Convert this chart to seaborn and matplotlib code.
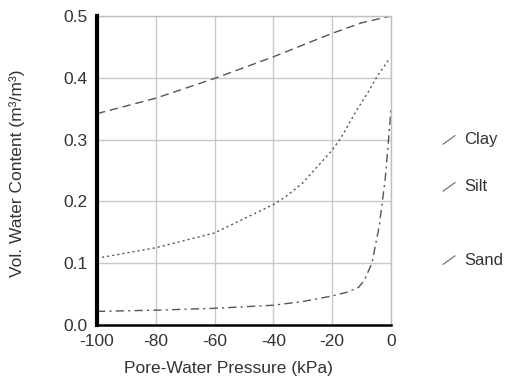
import numpy as np
import pandas as pd
import matplotlib
matplotlib.use("Agg")
import matplotlib.pyplot as plt
import seaborn as sns

# ---- data ----
clay_x = [-100, -80, -60, -40, -20, -10, 0]
clay_y = [0.342, 0.367, 0.399, 0.434, 0.472, 0.489, 0.500]

silt_x = [-100, -80, -60, -40, -36, -30, -20, -17, -12, -8, -5, -1]
silt_y = [0.108, 0.125, 0.149, 0.195, 0.207, 0.230, 0.283, 0.303, 0.345, 0.375, 0.400, 0.428]

sand_x = [-100, -80, -60, -40, -30, -20, -15, -11, -9, -6.5, -4, -2, -1, 0]
sand_y = [0.022, 0.024, 0.027, 0.032, 0.038, 0.047, 0.053, 0.061, 0.073, 0.100, 0.160, 0.235, 0.290, 0.350]

series_names = ["Clay", "Silt", "Sand"]
x_ticks = [-100, -80, -60, -40, -20, 0]
y_ticks = [0.0, 0.1, 0.2, 0.3, 0.4, 0.5]

sns.set_style("white")
plt.rcParams['font.family'] = ['Liberation Sans', 'DejaVu Sans']
plt.rcParams['axes.unicode_minus'] = False

fig = plt.figure(figsize=(5.05, 3.83), dpi=100)
ax = fig.add_axes([97/505, 1-325/383, 294/505, 309/383])

line_col = "#555555"
styles = {
    "Clay": (0, (6, 3.5)),
    "Silt": (0, (1.5, 2.2)),
    "Sand": (0, (6, 3, 1.5, 3)),
}
data = {"Clay": (clay_x, clay_y), "Silt": (silt_x, silt_y), "Sand": (sand_x, sand_y)}
for name in series_names:
    xs, ys = data[name]
    df = pd.DataFrame({"x": xs, "y": ys})
    sns.lineplot(data=df, x="x", y="y", ax=ax, color=line_col, lw=1.0,
                 linestyle=styles[name], estimator=None, sort=False)

ax.set_xlim(-100, 0)
ax.set_ylim(0, 0.5)
ax.set_xticks(x_ticks)
ax.set_yticks(y_ticks)
ax.set_xticklabels([str(t) for t in x_ticks])
ax.set_yticklabels([f"{t:.1f}" for t in y_ticks])
ax.grid(True, color="#c8c8c8", lw=1.0)
ax.set_axisbelow(True)

for s in ["top", "right"]:
    ax.spines[s].set_color("#c0c0c0")
    ax.spines[s].set_linewidth(1.0)
ax.spines["left"].set_color("black")
ax.spines["left"].set_linewidth(3.0)
ax.spines["bottom"].set_color("black")
ax.spines["bottom"].set_linewidth(1.8)
ax.spines["left"].set_zorder(5)
ax.spines["bottom"].set_zorder(5)

txt_col = "#333333"
fs = 12.5
ax.tick_params(axis="y", direction="inout", length=22, width=1.6, color="black",
               labelsize=fs, labelcolor=txt_col, pad=-4)
ax.tick_params(axis="x", direction="inout", length=13, width=2.6, color="black",
               labelsize=fs, labelcolor=txt_col, pad=0)
xt = ax.xaxis.get_major_ticks()
xt[-1].tick1line.set_visible(False)
xt[0].tick1line.set_visible(False)

ax.set_xlabel("Pore-Water Pressure (kPa)", fontsize=fs, color=txt_col)
ax.set_ylabel("Vol. Water Content (m³/m³)", fontsize=fs, color=txt_col)
ax.xaxis.set_label_coords(0.446, -0.115)
ax.yaxis.set_label_coords(-0.245, 0.49)

# legend-like labels on right
leg_y = {"Clay": 0.599, "Silt": 0.447, "Sand": 0.210}
for name in series_names:
    yy = leg_y[name]
    ax.plot([1.177, 1.218], [yy - 0.014, yy + 0.014], transform=ax.transAxes,
            color="#777777", lw=0.9, clip_on=False)
    ax.text(1.250, yy, name, transform=ax.transAxes, fontsize=12,
            color=txt_col, va="center", ha="left")

fig.savefig("out.png", dpi=100)
